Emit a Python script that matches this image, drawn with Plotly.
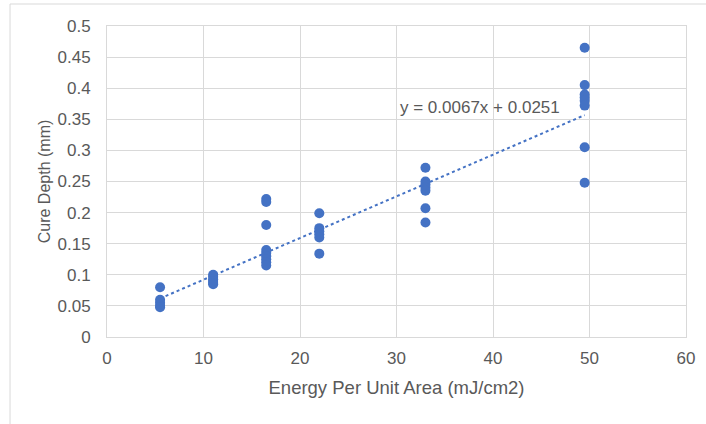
import plotly.graph_objects as go

# Data
energy = [5.5]*5 + [11]*6 + [16.5]*9 + [22]*6 + [33]*7 + [49.5]*8
cure_depth = [
    0.080, 0.060, 0.055, 0.050, 0.048,
    0.100, 0.097, 0.093, 0.090, 0.087, 0.085,
    0.222, 0.217, 0.180, 0.140, 0.135, 0.130, 0.125, 0.120, 0.115,
    0.199, 0.175, 0.170, 0.165, 0.160, 0.134,
    0.272, 0.250, 0.245, 0.240, 0.235, 0.207, 0.184,
    0.465, 0.405, 0.390, 0.385, 0.380, 0.372, 0.305, 0.248,
]
slope = 0.0067
intercept = 0.0251
trend_x = [min(energy), max(energy)]
trend_y = [slope * x + intercept for x in trend_x]

x_ticks = [0, 10, 20, 30, 40, 50, 60]
y_ticks = [0, 0.05, 0.1, 0.15, 0.2, 0.25, 0.3, 0.35, 0.4, 0.45, 0.5]
y_tick_text = ["0", "0.05", "0.1", "0.15", "0.2", "0.25", "0.3", "0.35", "0.4", "0.45", "0.5"]

BLUE = "#4472C4"
GRID = "#d9d9d9"
TXT = "#595959"
FONT = "Liberation Sans, Arial, Helvetica, sans-serif"

fig = go.Figure()
fig.add_trace(go.Scatter(
    x=trend_x, y=trend_y, mode="lines",
    line=dict(color=BLUE, width=2, dash="dot"),
    hoverinfo="skip", showlegend=False,
))
fig.add_trace(go.Scatter(
    x=energy, y=cure_depth, mode="markers",
    marker=dict(color=BLUE, size=10),
    showlegend=False,
))

fig.add_annotation(
    x=38.7, y=0.369, xref="x", yref="y",
    text=f"y = {slope}x + {intercept}", showarrow=False,
    font=dict(family=FONT, size=17, color=TXT),
)

# outer chart border (Excel chart frame)
fig.add_shape(type="rect", xref="paper", yref="paper",
              x0=-0.1675, y0=-0.35, x1=1.1, y1=1.0707,
              line=dict(color="#d9d9d9", width=1), fillcolor="rgba(0,0,0,0)",
              layer="below")

fig.update_layout(
    width=706, height=424,
    margin=dict(l=107, r=20, t=26, b=87),
    paper_bgcolor="white", plot_bgcolor="white",
    font=dict(family=FONT, color=TXT),
    xaxis=dict(
        range=[0, 60], tickmode="array", tickvals=x_ticks,
        showgrid=True, gridcolor=GRID, gridwidth=1,
        zeroline=False, showline=True, mirror=True, linecolor=GRID, linewidth=1,
        ticks="", ticklabelstandoff=6,
        tickfont=dict(family=FONT, size=17, color=TXT),
        title=dict(text="Energy Per Unit Area (mJ/cm2)", standoff=13,
                   font=dict(family=FONT, size=18.5, color=TXT)),
    ),
    yaxis=dict(
        range=[0, 0.5], tickmode="array", tickvals=y_ticks, ticktext=y_tick_text,
        showgrid=True, gridcolor=GRID, gridwidth=1,
        zeroline=False, showline=True, mirror=True, linecolor=GRID, linewidth=1,
        ticks="", ticklabelstandoff=12,
        tickfont=dict(family=FONT, size=17, color=TXT),
        title=dict(text="Cure Depth (mm)", standoff=2,
                   font=dict(family=FONT, size=16, color=TXT)),
    ),
)

fig.write_html("out.html", config={"displayModeBar": False},
               post_script="document.body.style.margin='0';")
